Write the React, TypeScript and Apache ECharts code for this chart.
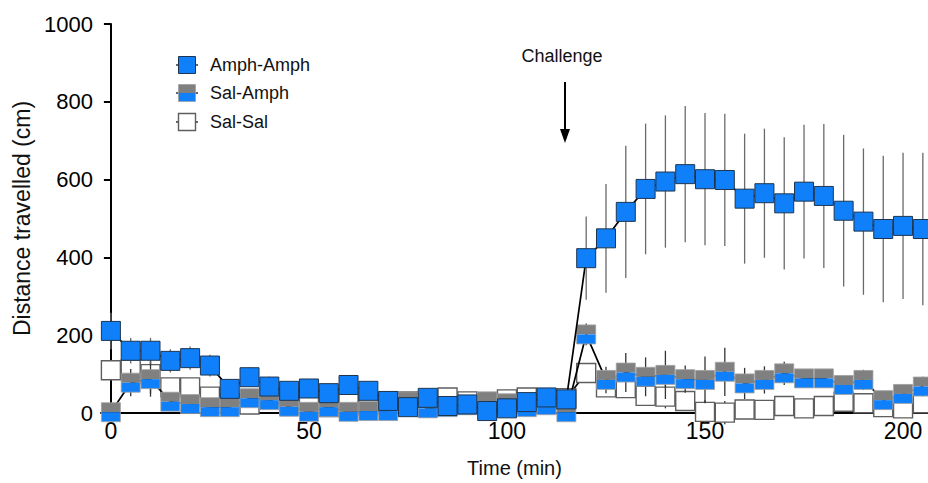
import React, { useEffect, useRef } from "react";
import * as echarts from "echarts";

// ---- data ----
const times = [
  0, 5, 10, 15, 20, 25, 30, 35, 40, 45, 50, 55, 60, 65, 70, 75, 80, 85, 90, 95, 100, 105, 110, 115,
  120, 125, 130, 135, 140, 145, 150, 155, 160, 165, 170, 175, 180, 185, 190, 195, 200, 205,
];
const amphAmph = [
  211, 160, 160, 134, 141, 122, 62, 92, 68, 57, 63, 51, 72, 57, 31, 15, 39, 18, 22, 5, 12, 28, 40, 35,
  398, 449, 517, 576, 595, 614, 601, 599, 551, 565, 539, 569, 558, 520, 492, 473, 481, 473,
];
const amphAmphErr = [
  47, 33, 33, 30, 30, 28, 25, 25, 25, 20, 20, 20, 20, 20, 15, 12, 12, 12, 12, 12, 12, 12, 12, 12,
  107, 140, 170, 168, 170, 175, 170, 170, 167, 166, 170, 172, 185, 195, 188, 188, 188, 196,
];
const salAmph = [
  2, 78, 87, 29, 23, 15, 15, 38, 33, 16, 3, 15, 3, 5, 5, 30, 12, 15, 20, 30, 25, 15, 20, 2,
  202, 85, 104, 93, 98, 87, 85, 106, 76, 85, 102, 89, 89, 72, 85, 33, 49, 68,
];
const salAmphErr = [
  8, 35, 45, 15, 15, 12, 12, 15, 15, 12, 10, 10, 10, 10, 10, 10, 10, 10, 10, 10, 10, 10, 10, 5,
  28, 34, 50, 50, 62, 35, 60, 62, 40, 35, 30, 20, 20, 20, 26, 12, 20, 25,
];
const salSal = [
  110, 112, 100, 66, 66, 42, 25, 22, 40, 20, 35, 15, 35, 20, 30, 30, 15, 40, 30, 25, 35, 40, 38, 38,
  103, 66, 64, 44, 42, 31, 3, 1, 9, 8, 18, 12, 18, 29, 25, 15, 12, 25,
];
const salSalErr = [
  20, 20, 50, 15, 15, 12, 10, 10, 10, 10, 10, 10, 10, 10, 10, 10, 10, 10, 10, 10, 10, 10, 10, 10,
  15, 15, 25, 25, 30, 25, 30, 30, 20, 12, 12, 12, 12, 12, 12, 12, 12, 12,
];
const xTicks = [0, 50, 100, 150, 200];
const seriesNames = ["Amph-Amph", "Sal-Amph", "Sal-Sal"];

const BLUE = "#1080fa";
const GRAY = "#808080";
const FONT = "'Liberation Sans', Arial, Helvetica, sans-serif";
const MS = 19;

type Kind = "aa" | "sa" | "ss";

function markerShapes(kind: Kind, cx: number, cy: number, s: number): any[] {
  if (kind === "aa") {
    return [
      {
        type: "rect",
        shape: { x: cx - s / 2, y: cy - s / 2, width: s, height: s },
        style: { fill: BLUE, stroke: "#1d3550", lineWidth: 1 },
      },
    ];
  }
  if (kind === "sa") {
    return [
      {
        type: "rect",
        shape: { x: cx - s / 2, y: cy - s / 2, width: s, height: s / 2 },
        style: { fill: GRAY, stroke: null },
      },
      {
        type: "rect",
        shape: { x: cx - s / 2, y: cy, width: s, height: s / 2 },
        style: { fill: BLUE, stroke: null },
      },
      {
        type: "rect",
        shape: { x: cx - s / 2, y: cy - s / 2, width: s, height: s },
        style: { fill: "none", stroke: "#a0a0a0", lineWidth: 0.8 },
      },
    ];
  }
  return [
    {
      type: "rect",
      shape: { x: cx - s / 2, y: cy - s / 2, width: s, height: s },
      style: { fill: "#ffffff", stroke: "#5e5e5e", lineWidth: 1.4 },
    },
  ];
}

function buildData(vals: number[], errs: number[]) {
  return times.map((t, i) => [t, vals[i], errs[i]]);
}

function customSeries(name: string, kind: Kind, vals: number[], errs: number[], errColor: string, z: number) {
  return {
    type: "custom",
    name,
    clip: false,
    z,
    data: buildData(vals, errs),
    renderItem: (params: any, api: any) => {
      const t = api.value(0);
      const v = api.value(1);
      const e = api.value(2);
      const c = api.coord([t, v]);
      const top = api.coord([t, v + e]);
      const bot = api.coord([t, v - e]);
      const children: any[] = [
        {
          type: "line",
          shape: { x1: c[0], y1: top[1], x2: c[0], y2: bot[1] },
          style: { stroke: errColor, lineWidth: 1.3 },
        },
        ...markerShapes(kind, c[0], c[1], MS),
      ];
      return { type: "group", children };
    },
  };
}

function lineSeries(name: string, vals: number[], z: number) {
  return {
    type: "line",
    name: name + " line",
    data: times.map((t, i) => [t, vals[i]]),
    showSymbol: false,
    symbol: "none",
    clip: false,
    z,
    lineStyle: { color: "#000000", width: 1.7 },
  };
}

function legendItem(kind: Kind, label: string, y: number): any[] {
  return [
    { type: "line", shape: { x1: 176, y1: y, x2: 198, y2: y }, style: { stroke: "#000", lineWidth: 1.2 } },
    ...markerShapes(kind, 187, y, 17),
    {
      type: "text",
      x: 210,
      y,
      style: { text: label, fill: "#111", font: `18px ${FONT}`, verticalAlign: "middle", align: "left" },
    },
  ];
}

export default function App() {
  const ref = useRef<HTMLDivElement>(null);
  useEffect(() => {
    if (!ref.current) return;
    const chart = echarts.init(ref.current, null, { renderer: "svg" });
    chart.setOption({
      animation: false,
      backgroundColor: "#ffffff",
      grid: { left: 101, right: 0, top: 24, bottom: 70, containLabel: false },
      xAxis: {
        type: "value",
        min: -2.5,
        max: 206.3,
        name: "Time (min)",
        nameLocation: "middle",
        nameGap: 45,
        nameTextStyle: { fontFamily: FONT, fontSize: 20, color: "#111" },
        axisLine: { show: true, lineStyle: { color: "#000", width: 2 } },
        axisTick: { show: false },
        splitLine: { show: false },
        axisLabel: {
          customValues: xTicks,
          fontFamily: FONT,
          fontSize: 23,
          color: "#000",
          margin: 6,
        },
      },
      yAxis: {
        type: "value",
        min: 0,
        max: 1000,
        interval: 200,
        name: "Distance travelled (cm)",
        nameLocation: "middle",
        nameGap: 66,
        nameRotate: 90,
        nameTextStyle: { fontFamily: FONT, fontSize: 23, color: "#111" },
        axisLine: { show: true, lineStyle: { color: "#000", width: 2 } },
        axisTick: { show: true, length: 7, lineStyle: { color: "#000", width: 2 } },
        splitLine: { show: false },
        axisLabel: {
          fontFamily: FONT,
          fontSize: 22,
          color: "#000",
          margin: 8,
          formatter: (v: number) => String(v),
        },
      },
      series: [
        lineSeries(seriesNames[2], salSal, 1),
        customSeries(seriesNames[2], "ss", salSal, salSalErr, "#333333", 2),
        lineSeries(seriesNames[1], salAmph, 3),
        customSeries(seriesNames[1], "sa", salAmph, salAmphErr, "#333333", 4),
        lineSeries(seriesNames[0], amphAmph, 5),
        customSeries(seriesNames[0], "aa", amphAmph, amphAmphErr, "#6a6a6a", 6),
      ],
      graphic: [
        ...legendItem("aa", seriesNames[0], 65),
        ...legendItem("sa", seriesNames[1], 93),
        ...legendItem("ss", seriesNames[2], 122),
        {
          type: "text",
          x: 562,
          y: 56,
          style: { text: "Challenge", fill: "#111", font: `18px ${FONT}`, align: "center", verticalAlign: "middle" },
        },
        { type: "line", shape: { x1: 565, y1: 82, x2: 565, y2: 131 }, style: { stroke: "#000", lineWidth: 2 } },
        { type: "polygon", shape: { points: [[560, 129], [570, 129], [565, 143]] }, style: { fill: "#000" } },
      ],
    });
    return () => chart.dispose();
  }, []);
  return (
    <div
      ref={ref}
      style={{ position: "fixed", left: 0, top: 0, width: 928, height: 483, background: "#fff" }}
    />
  );
}
